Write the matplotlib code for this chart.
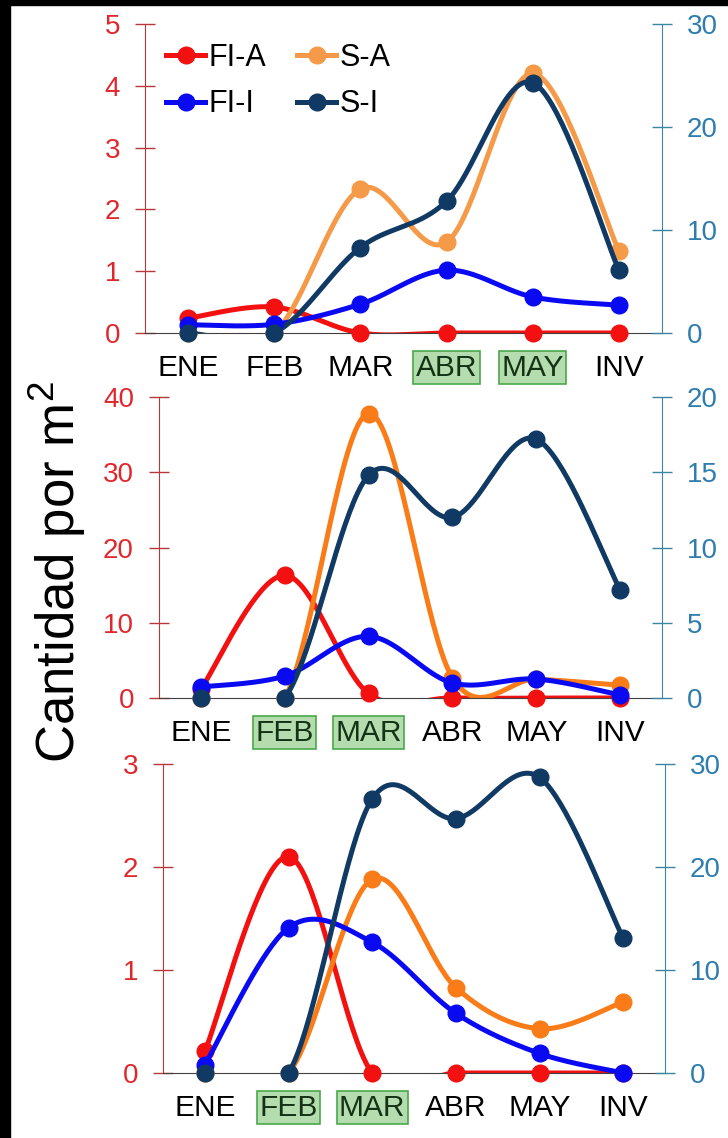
import numpy as np
import matplotlib.pyplot as plt
from matplotlib.lines import Line2D
from matplotlib.patches import Rectangle

plt.rcParams['font.family'] = ['Liberation Sans', 'DejaVu Sans']
plt.rcParams['mathtext.fontset'] = 'custom'
plt.rcParams['mathtext.rm'] = 'Liberation Sans'

months = ["ENE", "FEB", "MAR", "ABR", "MAY", "INV"]

# Panel 1 (A series on left axis, I series on right axis)
fia_1 = [0.24, 0.42, 0, 0, 0, 0]
sa_1 = [0, 0, 2.33, 1.47, 4.2, 1.33]
fii_1 = [0.8, 0.85, 2.8, 6.1, 3.5, 2.7]
si_1 = [0, 0, 8.3, 12.8, 24.3, 6.1]
marked_1 = ["ABR", "MAY"]

# Panel 2
fia_2 = [1.2, 16.3, 0.6, 0, 0, 0]
sa_2 = [0, 0, 37.8, 2.7, 2.5, 1.7]
fii_2 = [0.73, 1.46, 4.1, 1.0, 1.26, 0.2]
si_2 = [0, 0, 14.8, 12.0, 17.2, 7.2]
marked_2 = ["FEB", "MAR"]

# Panel 3
fia_3 = [0.21, 2.1, 0, 0, 0, 0]
sa_3 = [0, 0, 1.88, 0.83, 0.43, 0.69]
fii_3 = [0.8, 14.1, 12.7, 5.8, 1.9, 0]
si_3 = [0, 0, 26.6, 24.7, 28.7, 13.1]
marked_3 = ["FEB", "MAR"]

RED = '#F21010'
BLUE = '#0A0AF2'
NAVY = '#103A63'
ORANGE_LIGHT = '#F59A48'
ORANGE = '#F97C18'
LEFT_SPINE = '#B8383A'
LEFT_TEXT = '#E0282C'
RIGHT_SPINE = '#3C87A0'
RIGHT_TEXT = '#2E7DAE'


def smooth(y, n=40):
    # Bezier smoothing with Catmull-Rom style control points
    y = np.asarray(y, float)
    x = np.arange(len(y), dtype=float)
    xp = np.concatenate([[x[0]], x, [x[-1]]])
    yp = np.concatenate([[y[0]], y, [y[-1]]])
    t = np.linspace(0, 1, n)[:, None]
    pts = []
    for i in range(len(y) - 1):
        p0 = np.array([x[i], y[i]])
        p3 = np.array([x[i + 1], y[i + 1]])
        p1 = p0 + (np.array([xp[i + 2], yp[i + 2]]) - np.array([xp[i], yp[i]])) / 6
        p2 = p3 - (np.array([xp[i + 3], yp[i + 3]]) - np.array([xp[i + 1], yp[i + 1]])) / 6
        seg = ((1 - t) ** 3) * p0 + 3 * ((1 - t) ** 2) * t * p1 + 3 * (1 - t) * t ** 2 * p2 + t ** 3 * p3
        pts.append(seg if i == 0 else seg[1:])
    pts = np.vstack(pts)
    return pts[:, 0], pts[:, 1]


def draw(ax, y, color):
    xs, ys = smooth(y)
    ax.plot(xs, ys, color=color, lw=3.6, solid_capstyle='round', solid_joinstyle='round', zorder=2)
    ax.plot(range(len(y)), y, 'o', color=color, ms=12, clip_on=False, zorder=3)


def panel(rect, fia, sa, fii, si, top_l, step_l, top_r, step_r, marked, orange, legend=False):
    ax = fig.add_axes(rect)
    tw = ax.twinx()
    draw(ax, fia, RED)
    draw(ax, sa, orange)
    draw(tw, fii, BLUE)
    draw(tw, si, NAVY)

    ax.set_xlim(-0.5, 5.5)
    ax.set_ylim(0, top_l)
    ax.set_yticks(np.arange(0, top_l + step_l / 2, step_l))
    tw.set_ylim(0, top_r)
    tw.set_yticks(np.arange(0, top_r + step_r / 2, step_r))

    ax.set_xticks(range(len(months)))
    ax.set_xticklabels(months, fontsize=21.5)
    ax.tick_params(axis='x', length=0, pad=15)
    ax.tick_params(axis='y', direction='inout', length=14, width=1, color=LEFT_SPINE,
                   labelcolor=LEFT_TEXT, labelsize=20, pad=11)
    tw.tick_params(axis='y', direction='inout', length=14, width=1, color=RIGHT_SPINE,
                   labelcolor=RIGHT_TEXT, labelsize=20, pad=11)

    for s in ['top', 'right']:
        ax.spines[s].set_visible(False)
    ax.spines['left'].set_color(LEFT_SPINE)
    ax.spines['bottom'].set_color('#404040')
    for s in ['top', 'left', 'bottom']:
        tw.spines[s].set_visible(False)
    tw.spines['right'].set_color(RIGHT_SPINE)

    for lab in ax.get_xticklabels():
        if lab.get_text() in marked:
            lab.set_bbox(dict(boxstyle='square,pad=0.08', fc='#B4DCAE', ec='#4AA84A', lw=1.2))
            lab.set_color('#143214')

    if legend:
        handles = [Line2D([], [], color=c, lw=3.6, marker='o', ms=12)
                   for c in [RED, BLUE, orange, NAVY]]
        tw.legend(handles, ["FI-A", "FI-I", "S-A", "S-I"], loc='upper left',
                  bbox_to_anchor=(0.04, 0.94), ncol=2, frameon=False, fontsize=22,
                  handlelength=1.3, handletextpad=0.1, columnspacing=1.0,
                  labelspacing=0.55, borderpad=0, borderaxespad=0)
    return ax, tw


W, H = 728, 1138
fig = plt.figure(figsize=(W / 100, H / 100), dpi=100)
fig.patch.set_facecolor('white')


def box(left, right, top, bottom):
    return [left / W, 1 - bottom / H, (right - left) / W, (bottom - top) / H]


panel(box(145, 662, 24, 333), fia_1, sa_1, fii_1, si_1, 5, 1, 30, 10, marked_1, ORANGE_LIGHT, legend=True)
panel(box(159, 662, 397, 698), fia_2, sa_2, fii_2, si_2, 40, 10, 20, 5, marked_2, ORANGE)
panel(box(163, 665, 764, 1073), fia_3, sa_3, fii_3, si_3, 3, 1, 30, 10, marked_3, ORANGE)

fig.text(57 / W, 1 - 572 / H, "Cantidad por m$^{2}$", rotation=90, fontsize=38,
         ha='center', va='center')

# black frame strips along the top and left edges
fig.add_artist(Rectangle((0, 1 - 5 / H), 1, 5 / H, transform=fig.transFigure, color='black', zorder=10))
fig.add_artist(Rectangle((0, 0), 10 / W, 1, transform=fig.transFigure, color='black', zorder=10))

fig.savefig('out.png', dpi=100)
